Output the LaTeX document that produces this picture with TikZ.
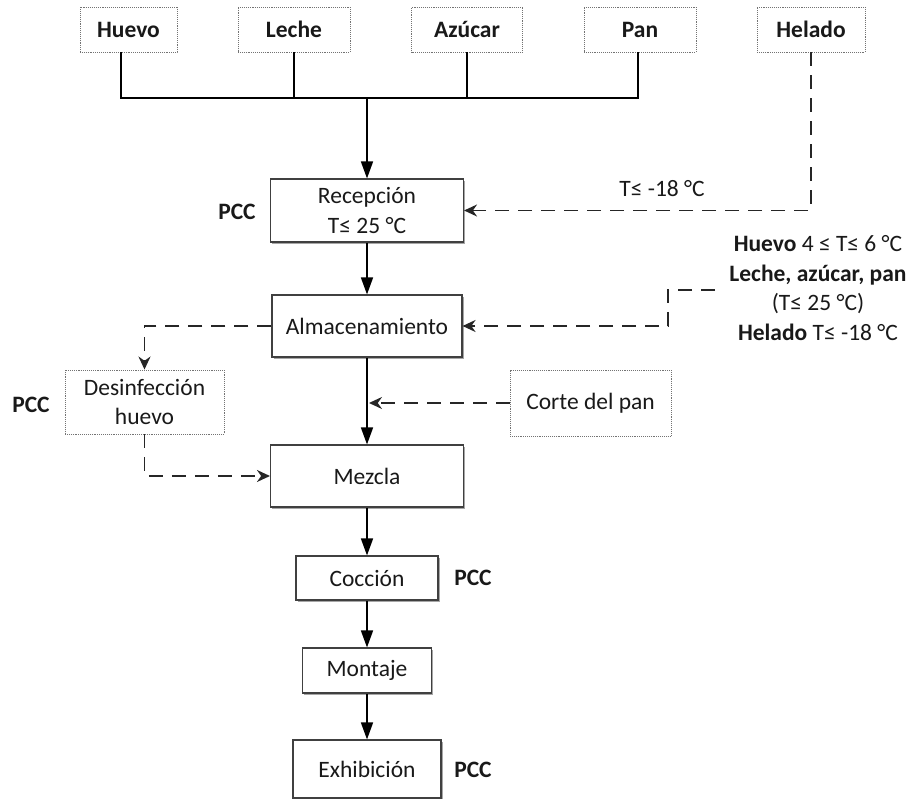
\documentclass[tikz,border=0pt]{standalone}
\usepackage{fontspec}
\setmainfont{Carlito}
\usetikzlibrary{arrows.meta,shadows}
\begin{document}
\begin{tikzpicture}[x=1pt,y=-1pt,
  every node/.style={font=\fontsize{23.5}{28}\selectfont, inner sep=0pt, text=black!90},
  procbox/.style={draw=black!75, line width=1.1pt, fill=white, align=center,
    drop shadow={shadow xshift=1.6pt, shadow yshift=-1.6pt, fill=black!35, opacity=1}},
  inbox/.style={draw=black!55, densely dotted, line width=0.9pt, fill=white, align=center},
  rawbox/.style={inbox, minimum height=45pt, font=\fontsize{23.5}{28}\selectfont\bfseries},
  twoline/.style={font=\fontsize{23.5}{29.5}\selectfont},
  pcc/.style={font=\fontsize{23.5}{28}\selectfont\bfseries},
  flow/.style={line width=1.6pt, -{Triangle[width=12pt,length=17pt]}},
  feed/.style={line width=1.6pt},
  dasharrow/.style={line width=1.8pt, black!85, dash pattern=on 14pt off 9pt, -{Stealth[width=12pt,length=13pt]}},
]
\useasboundingbox (0,0) rectangle (919,799);

% raw materials
\node[rawbox, minimum width=97pt] (huevo) at (128.5,29.5) {Huevo};
\node[rawbox, minimum width=112pt] (leche) at (294,29.5) {Leche};
\node[rawbox, minimum width=111pt] (azucar) at (467,29.5) {Azúcar};
\node[rawbox, minimum width=112pt] (pan) at (640,29.5) {Pan};
\node[rawbox, minimum width=108pt] (helado) at (811,29.5) {Helado};

% process steps
\node[procbox, twoline, minimum width=193pt, minimum height=63pt] (recep) at (367,210.5) {Recepción\\T≤ 25 °C};
\node[procbox, minimum width=190pt, minimum height=62pt] (alm) at (367,326) {Almacenamiento};
\node[inbox, twoline, minimum width=159pt, minimum height=64pt] (desinf) at (144.5,402) {Desinfección\\huevo};
\node[inbox, minimum width=161pt, minimum height=66pt] (corte) at (590.5,403) {Corte del pan};
\node[procbox, minimum width=193pt, minimum height=62pt] (mezcla) at (367,476) {Mezcla};
\node[procbox, minimum width=142pt, minimum height=44pt] (coccion) at (367,578) {Cocción};
\node[procbox, minimum width=129pt, minimum height=45pt] (montaje) at (367,670.5) {Montaje};
\node[procbox, minimum width=148pt, minimum height=58pt] (exhib) at (367,769) {Exhibición};

% critical control points
\node[pcc] (pcc1) at (237,212) {PCC};
\node[pcc] (pcc2) at (31,405) {PCC};
\node[pcc] (pcc3) at (473,578) {PCC};
\node[pcc] (pcc4) at (473,770) {PCC};

% storage conditions
\node[align=center, font=\fontsize{23.5}{29.5}\selectfont] (cond) at (818,288)
  {\textbf{Huevo} 4 ≤ T≤ 6 °C\\\textbf{Leche, azúcar, pan}\\(T≤ 25 °C)\\\textbf{Helado} T≤ -18 °C};
\node (tlab) at (662,189) {T≤ -18 °C};

% collector of raw materials
\coordinate (bus) at (367,98);
\coordinate (busL) at (121,98);
\coordinate (busR) at (638,98);
\draw[feed] (huevo.south -| busL) -- (busL) -- (busR) -- (pan.south -| busR);
\draw[feed] (leche.south) -- (leche.south |- bus);
\draw[feed] (azucar.south) -- (azucar.south |- bus);
\draw[flow] (bus) -- (recep.north);

% main flow
\draw[flow] (recep.south) -- (alm.north);
\draw[flow] (alm.south) -- (mezcla.north);
\draw[flow] (mezcla.south) -- (coccion.north);
\draw[flow] (coccion.south) -- (montaje.north);
\draw[flow] (montaje.south) -- (exhib.north);

% dashed side flows
\draw[dasharrow] (helado.south) |- (recep.east);
\coordinate (condin) at (715,290);
\draw[dasharrow] (condin) -- (668,290) |- (alm.east);
\draw[dasharrow] (alm.west) -| (desinf.north);
\draw[dasharrow] (desinf.south) |- (mezcla.west);
\coordinate (cortejoin) at (369,403);
\draw[dasharrow] (corte.west) -- (cortejoin);
\end{tikzpicture}
\end{document}
